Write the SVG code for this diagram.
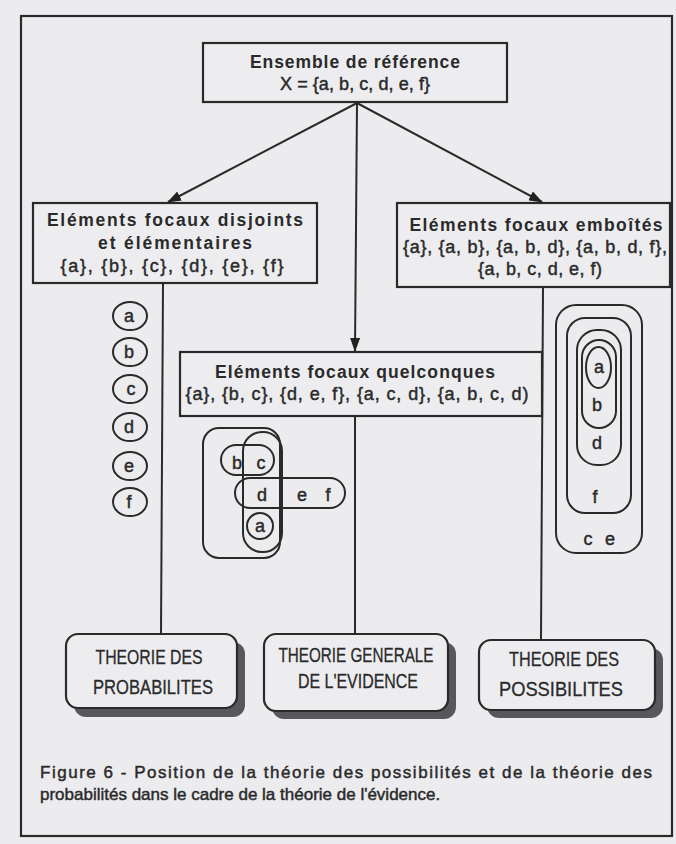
<svg xmlns="http://www.w3.org/2000/svg" width="676" height="844" viewBox="0 0 676 844">
<defs>
<marker id="ah" viewBox="0 0 14 10" refX="13" refY="5" markerWidth="14" markerHeight="10" markerUnits="userSpaceOnUse" orient="auto">
<path d="M0,0 L14,5 L0,10 z" fill="#222"/>
</marker>
</defs>
<style>
.bg{fill:#ececef}
.ln{stroke:#2a2a2a;stroke-width:2;fill:none}
.box{fill:#ededf0;stroke:#2a2a2a;stroke-width:2.2}
.shadow{fill:#58585c}
.h{font-family:"Liberation Sans",Arial,sans-serif;font-weight:700;font-size:17.5px;fill:#2a2a2a;text-anchor:middle}
.s{font-family:"Liberation Sans",Arial,sans-serif;font-size:18px;fill:#2a2a2a;stroke:#2a2a2a;stroke-width:0.45;text-anchor:middle}
.l{font-family:"Liberation Sans",Arial,sans-serif;font-size:18px;fill:#2a2a2a;stroke:#2a2a2a;stroke-width:0.45;text-anchor:middle}
.t{font-family:"Liberation Sans",sans-serif;font-size:21px;fill:#2a2a2a;stroke:#2a2a2a;stroke-width:0.3;text-anchor:middle}
.cap{font-family:"Liberation Sans",Arial,sans-serif;font-size:17px;fill:#2a2a2a;stroke:#2a2a2a;stroke-width:0.45}
</style>
<rect class="bg" x="0" y="0" width="676" height="844"/>
<rect x="21" y="16" width="651" height="820" fill="none" stroke="#2a2a2a" stroke-width="2.2"/>

<g id="connectors">
<line class="ln" x1="357" y1="103" x2="168" y2="202" marker-end="url(#ah)"/>
<line class="ln" x1="357" y1="103" x2="542" y2="202" marker-end="url(#ah)"/>
<line class="ln" x1="357" y1="103" x2="355" y2="351" marker-end="url(#ah)"/>
<line class="ln" x1="163" y1="283" x2="161" y2="634"/>
<line class="ln" x1="355" y1="416" x2="355" y2="634"/>
<line class="ln" x1="543" y1="287" x2="541" y2="640"/>
</g>

<g id="ref">
<rect class="box" x="203" y="43" width="304" height="59"/>
<text class="h" x="355" y="68" textLength="210" lengthAdjust="spacing">Ensemble de référence</text>
<text class="s" x="355" y="90" textLength="150">X = {a, b, c, d, e, f}</text>
</g>

<g id="disjoints">
<rect class="box" x="33" y="203" width="284" height="80"/>
<text class="h" x="175" y="226" textLength="256" lengthAdjust="spacing">Eléments focaux disjoints</text>
<text class="h" x="175" y="249" textLength="154" lengthAdjust="spacing">et élémentaires</text>
<text class="s" x="172" y="272" textLength="223">{a}, {b}, {c}, {d}, {e}, {f}</text>
</g>

<g id="emboites">
<rect class="box" x="397" y="203" width="273" height="84"/>
<text class="h" x="536" y="231" textLength="253" lengthAdjust="spacing">Eléments focaux emboîtés</text>
<text class="s" x="535" y="253" textLength="264">{a}, {a, b}, {a, b, d}, {a, b, d, f},</text>
<text class="s" x="540" y="275" textLength="124">{a, b, c, d, e, f)</text>
</g>

<g id="quelconques">
<rect class="box" x="180" y="352" width="362" height="64"/>
<text class="h" x="355" y="378" textLength="280" lengthAdjust="spacing">Eléments focaux quelconques</text>
<text class="s" x="357" y="400" textLength="343">{a}, {b, c}, {d, e, f}, {a, c, d}, {a, b, c, d)</text>
</g>

<g id="disjoint-sets">
<ellipse class="ln" cx="130" cy="316" rx="17" ry="14"/>
<ellipse class="ln" cx="130" cy="352" rx="17" ry="14"/>
<ellipse class="ln" cx="130" cy="389" rx="17" ry="14"/>
<ellipse class="ln" cx="130" cy="427" rx="17" ry="14"/>
<ellipse class="ln" cx="130" cy="466" rx="17" ry="14"/>
<ellipse class="ln" cx="130" cy="502" rx="17" ry="14"/>
<text class="l" x="129" y="322">a</text>
<text class="l" x="129" y="358">b</text>
<text class="l" x="131" y="395">c</text>
<text class="l" x="129" y="433">d</text>
<text class="l" x="129" y="472">e</text>
<text class="l" x="129" y="508">f</text>
</g>

<g id="quelconque-sets">
<rect class="ln" x="203" y="428" width="77" height="130" rx="16"/>
<rect class="ln" x="243" y="432" width="39" height="120" rx="19"/>
<rect class="ln" x="221" y="445" width="53" height="30" rx="15"/>
<rect class="ln" x="235" y="478" width="110" height="30" rx="15"/>
<circle class="ln" cx="260" cy="526" r="13"/>
<text class="l" x="237" y="469">b</text>
<text class="l" x="261" y="469">c</text>
<text class="l" x="262" y="501">d</text>
<text class="l" x="302" y="501">e</text>
<text class="l" x="328" y="501">f</text>
<text class="l" x="260" y="532">a</text>
</g>

<g id="emboite-sets">
<rect class="ln" x="556" y="305" width="86" height="248" rx="20"/>
<rect class="ln" x="567" y="318" width="64" height="195" rx="18"/>
<rect class="ln" x="577" y="330" width="44" height="135" rx="20"/>
<rect class="ln" x="582" y="340" width="34" height="88" rx="17"/>
<ellipse class="ln" cx="598.5" cy="367.5" rx="12.5" ry="20.5"/>
<text class="l" x="599" y="373">a</text>
<text class="l" x="597" y="411">b</text>
<text class="l" x="597" y="449">d</text>
<text class="l" x="595" y="503">f</text>
<text class="l" x="588" y="545">c</text>
<text class="l" x="610" y="545">e</text>
</g>

<g id="probabilites">
<rect class="shadow" x="74" y="642" width="171" height="75" rx="12"/>
<rect class="box" x="66" y="634" width="171" height="74" rx="12"/>
<text class="t" x="149" y="664" textLength="107" lengthAdjust="spacingAndGlyphs">THEORIE DES</text>
<text class="t" x="153" y="694" textLength="120" lengthAdjust="spacingAndGlyphs">PROBABILITES</text>
</g>

<g id="evidence">
<rect class="shadow" x="272" y="642" width="184" height="77" rx="12"/>
<rect class="box" x="264" y="634" width="184" height="77" rx="12"/>
<text class="t" x="356" y="662" textLength="155" lengthAdjust="spacingAndGlyphs">THEORIE GENERALE</text>
<text class="t" x="358" y="688" textLength="120" lengthAdjust="spacingAndGlyphs">DE L'EVIDENCE</text>
</g>

<g id="possibilites">
<rect class="shadow" x="487" y="648" width="176" height="70" rx="12"/>
<rect class="box" x="479" y="640" width="176" height="70" rx="12"/>
<text class="t" x="564" y="666" textLength="110" lengthAdjust="spacingAndGlyphs">THEORIE DES</text>
<text class="t" x="561" y="696" textLength="124" lengthAdjust="spacingAndGlyphs">POSSIBILITES</text>
</g>

<g id="caption">
<text class="cap" x="40" y="778" textLength="612" lengthAdjust="spacing">Figure 6 - Position de la théorie des possibilités et de la théorie des</text>
<text class="cap" x="40" y="800">probabilités dans le cadre de la théorie de l'évidence.</text>
</g>
</svg>
